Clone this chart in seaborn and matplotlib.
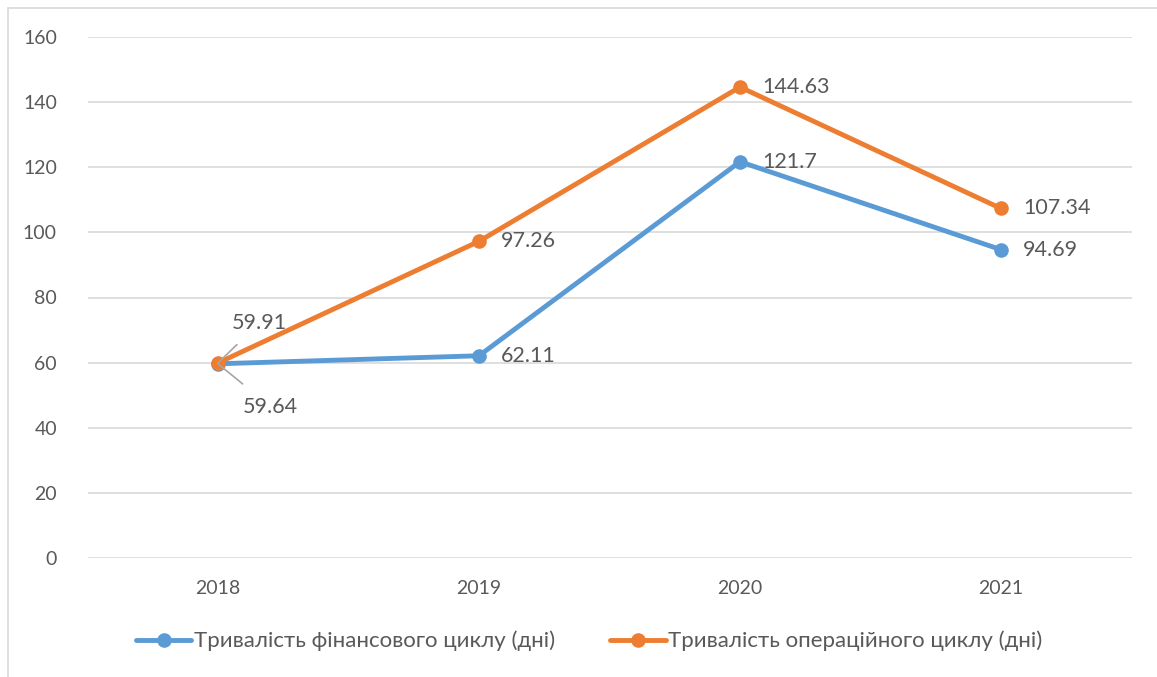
import matplotlib
matplotlib.use("Agg")
import matplotlib.pyplot as plt
import seaborn as sns
import pandas as pd
from matplotlib.lines import Line2D

years = ["2018", "2019", "2020", "2021"]
fin_cycle = [59.64, 62.11, 121.7, 94.69]
op_cycle = [59.91, 97.26, 144.63, 107.34]
series_names = ["Тривалість фінансового циклу (дні)", "Тривалість операційного циклу (дні)"]
colors = ["#5B9BD5", "#ED7D31"]
y_ticks = [0, 20, 40, 60, 80, 100, 120, 140, 160]

df = pd.DataFrame({
    "year": years * 2,
    "value": fin_cycle + op_cycle,
    "series": [series_names[0]] * 4 + [series_names[1]] * 4,
})

sns.set_theme(style="white")
plt.rcParams["font.family"] = ["Lato", "DejaVu Sans"]
text_color = "#595959"

fig = plt.figure(figsize=(11.57, 6.77), dpi=100)
W, H = 1157, 677
ax = fig.add_axes([87.5 / W, (H - 558) / H, (1131.5 - 87.5) / W, (558 - 37) / H])

sns.lineplot(data=df, x="year", y="value", hue="series", palette=colors,
             marker="o", markersize=10.5, markeredgewidth=0, linewidth=3.5,
             ax=ax, legend=False, sort=False)

ax.set_xlim(-0.5, 3.5)
ax.set_ylim(0, 160)
ax.set_yticks(y_ticks)
ax.set_xlabel("")
ax.set_ylabel("")
ax.grid(axis="y", color="#D9D9D9", linewidth=1.2)
ax.set_axisbelow(True)
for s in ax.spines.values():
    s.set_visible(False)
ax.tick_params(axis="both", length=0, labelsize=14, labelcolor=text_color)
ax.tick_params(axis="y", pad=22)
ax.tick_params(axis="x", pad=16)

# data labels
lfs = 15.5
lbl_kw = dict(fontsize=lfs, color=text_color, va="center", ha="left")
for i in range(1, 4):
    ax.annotate(f"{fin_cycle[i]:g}", (i, fin_cycle[i]), xytext=(16, 0),
                textcoords="offset points", **lbl_kw)
    ax.annotate(f"{op_cycle[i]:g}", (i, op_cycle[i]), xytext=(16, 0),
                textcoords="offset points", **lbl_kw)

ax.annotate(f"{op_cycle[0]:g}", (0, op_cycle[0]), xytext=(30, 29),
            textcoords="offset points", fontsize=lfs, color=text_color,
            ha="center", va="center",
            arrowprops=dict(arrowstyle="-", color="#A6A6A6", lw=1.2,
                            shrinkA=9, shrinkB=0))
ax.annotate(f"{fin_cycle[0]:g}", (0, fin_cycle[0]), xytext=(38, -31),
            textcoords="offset points", fontsize=lfs, color=text_color,
            ha="center", va="center",
            arrowprops=dict(arrowstyle="-", color="#A6A6A6", lw=1.2,
                            shrinkA=11, shrinkB=0))

handles = [Line2D([], [], color=c, lw=3.5, marker="o", markersize=10.5,
                  markeredgewidth=0) for c in colors]
fig.legend(handles, series_names, loc="center", bbox_to_anchor=(589 / W, (H - 641) / H),
           ncol=2, frameon=False, fontsize=16, labelcolor=text_color,
           handlelength=2.5, handletextpad=0.1, columnspacing=2.5)

# chart border (top and left visible)
fig.add_artist(Line2D([8 / W, 1], [1 - 8 / H, 1 - 8 / H], color="#D9D9D9", lw=1.2,
                      transform=fig.transFigure))
fig.add_artist(Line2D([8 / W, 8 / W], [0, 1 - 8 / H], color="#D9D9D9", lw=1.2,
                      transform=fig.transFigure))

fig.savefig("out.png", dpi=100, facecolor="white")
